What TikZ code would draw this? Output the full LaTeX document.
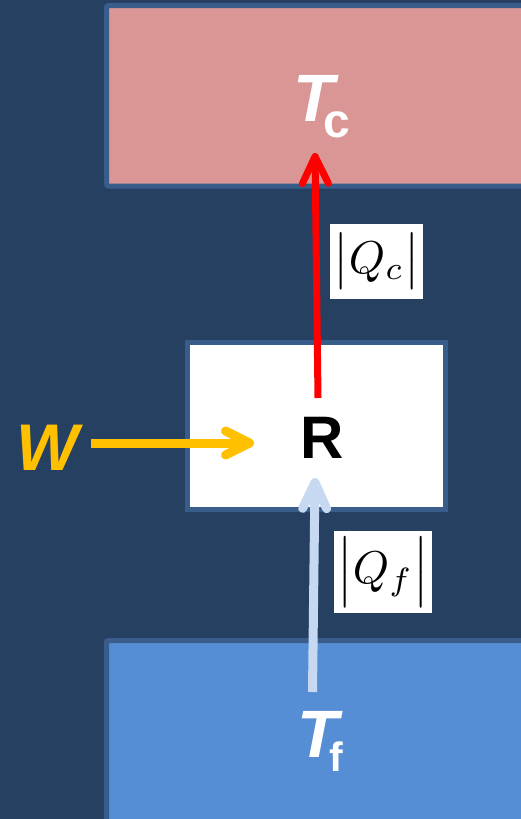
\documentclass[tikz,border=0pt]{standalone}
\usepackage{fontspec}
\setmainfont{Liberation Sans}
\usetikzlibrary{arrows.meta}
\definecolor{bg}{HTML}{264062}
\definecolor{edge}{HTML}{385D8A}
\definecolor{hot}{HTML}{D99694}
\definecolor{cold}{HTML}{558ED5}
\definecolor{pale}{HTML}{C6D9F1}
\definecolor{gold}{HTML}{FFC000}
\newcommand{\tallbar}{\vcenter{\hbox{\scalebox{1}[1.25]{$\bigm|$}}}}
\begin{document}
\begin{tikzpicture}[x=1pt,y=-1pt,
  reservoir/.style={draw=edge,line width=5pt,rounded corners=2pt},
  bigT/.style={anchor=base,text=white,inner sep=0,font=\fontsize{67}{67}\selectfont\bfseries\itshape},
  subtxt/.style={anchor=base,text=white,inner sep=0,font=\fontsize{#1}{#1}\selectfont\bfseries},
  qlabel/.style={fill=white,inner sep=0},
  flow/.style={line width=#1,line cap=butt}
]
\useasboundingbox (0,0) rectangle (521,819);
\clip (0,0) rectangle (521,819);
\fill[bg] (0,0) rectangle (521,819);
% reservoirs
\draw[reservoir,fill=hot] (106.5,5.5) rectangle (545,186);
\draw[reservoir,fill=cold] (106.5,640.5) rectangle (545,845);
% machine
\node[draw=edge,line width=5pt,fill=white,minimum width=258pt,minimum height=167pt,inner sep=0] (box) at (316.5,426) {};
\node[anchor=base,inner sep=0,font=\fontsize{60}{60}\selectfont\bfseries] (R) at (322,458) {R};
% temperatures
\node[bigT] (Tc) at (314,121) {T};
\node[subtxt=48] (c) at (337,137) {c};
\node[bigT] (Tf) at (318,757) {T};
\node[subtxt=41] (f) at (336.5,771) {f};
% work
\node[anchor=base,inner sep=0,text=gold,font=\fontsize{66}{66}\selectfont\bfseries\itshape] (W) at (48,470) {W};
% connectors
\coordinate (rs) at (318,398);
\coordinate (re) at (315,153);
\coordinate (bs) at (312.5,692);
\coordinate (be) at (315,478);
\coordinate (ws) at (91,443);
\coordinate (we) at (254,443);
\draw[flow=7pt,red,-{Straight Barb[length=27pt,width=26pt,line cap=round,line join=round]}] (rs) -- (re);
\draw[flow=9pt,pale,-{Straight Barb[length=26pt,width=24pt,line cap=round,line join=round]}] (bs) -- (be);
\draw[flow=9pt,gold,-{Straight Barb[length=24pt,width=24pt,line cap=round,line join=round]}] (ws) -- (we);
% heat labels
\node[qlabel,minimum width=93pt,minimum height=75pt] (Qc) at (376.5,261.5) {\scalebox{4.6}{$\bigl|Q_c\bigr|$}};
\node[qlabel,minimum width=98pt,minimum height=82pt] (Qf) at (383,572) {\raisebox{3pt}{\scalebox{4.6}{$\mathopen{\tallbar}Q_f\mathclose{\tallbar}$}}};
\end{tikzpicture}
\end{document}
